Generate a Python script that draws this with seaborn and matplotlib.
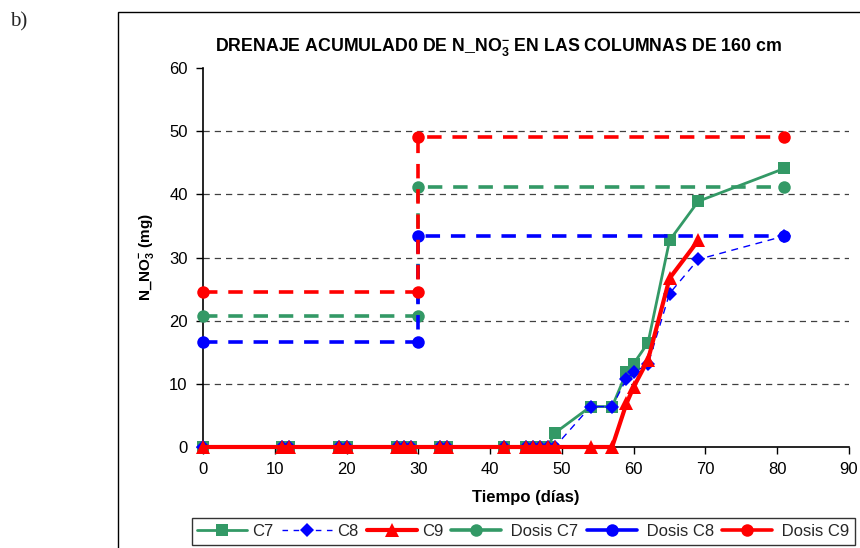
import matplotlib
matplotlib.use("Agg")
import matplotlib.pyplot as plt
import seaborn as sns
import pandas as pd
from matplotlib.patches import Rectangle
from matplotlib.lines import Line2D

# ---- data ----
dias = [0, 11, 12, 19, 20, 27, 28, 29, 33, 34, 42, 45, 46, 47, 48, 49, 54, 57, 59, 60, 62, 65, 69, 81]
c7 = [0, 0, 0, 0, 0, 0, 0, 0, 0, 0, 0, 0, 0, 0, 0, 2.2, 6.4, 6.4, 11.8, 13.2, 16.5, 32.7, 38.9, 44.1]
c8 = [0, 0, 0, 0, 0, 0, 0, 0, 0, 0, 0, 0, 0, 0, 0, 0, 6.4, 6.4, 10.8, 11.8, 13.1, 24.3, 29.7, 33.4]
dias_c9 = [0, 11, 12, 19, 20, 27, 28, 29, 33, 34, 42, 45, 46, 47, 48, 49, 54, 57, 59, 60, 62, 65, 69]
c9 = [0, 0, 0, 0, 0, 0, 0, 0, 0, 0, 0, 0, 0, 0, 0, 0, 0, 0, 6.9, 9.5, 13.8, 26.7, 32.7]
dias_dosis = [0, 30, 30, 81]
dosis_c7 = [20.7, 20.7, 41.2, 41.2]
dosis_c8 = [16.7, 16.7, 33.4, 33.4]
dosis_c9 = [24.5, 24.5, 49.1, 49.1]
xticks = [0, 10, 20, 30, 40, 50, 60, 70, 80, 90]
yticks = [0, 10, 20, 30, 40, 50, 60]
labels = ["C7", "C8", "C9", " Dosis C7", " Dosis C8", " Dosis C9"]

GREEN = "#339966"
BLUE = "#0000FF"
RED = "#FF0000"

sns.set_theme(style="white")
plt.rcParams["font.family"] = ["Liberation Sans", "DejaVu Sans"]
plt.rcParams["mathtext.fontset"] = "custom"
plt.rcParams["mathtext.rm"] = "Liberation Sans"
plt.rcParams["mathtext.bf"] = "Liberation Sans:bold"

fig = plt.figure(figsize=(8.6, 5.48), dpi=100)
ax = fig.add_axes([203/860, 1-447/548, (849-203)/860, (447-68)/548])
ax.set_facecolor("white")

# outer frame and panel label
fig.patches.append(Rectangle((118/860, -0.2), 1.0, 1 - 12/548 + 0.2,
                             transform=fig.transFigure, fill=False,
                             edgecolor="black", linewidth=1.0))
fig.text(10/860, 1-22/548, "b)", family="Liberation Serif", fontsize=15,
         va="center", ha="left")

# gridlines
for y in yticks[1:-1]:
    ax.axhline(y, color="#404040", linestyle=(0, (5, 4)), linewidth=0.9, zorder=0)

def series(x, y, color, marker, ms, lw, ls, label, z):
    df = pd.DataFrame({"x": x, "y": y})
    sns.lineplot(data=df, x="x", y="y", ax=ax, color=color, marker=marker,
                 markersize=ms, linewidth=lw, linestyle=ls, markeredgewidth=0,
                 estimator=None, sort=False, label=label, zorder=z, legend=False,
                 clip_on=False)

series(dias, c7, GREEN, "s", 9, 2.0, "-", labels[0], 3)
series(dias, c8, BLUE, "D", 7.5, 1.0, (0, (5, 4)), labels[1], 4)
series(dias_c9, c9, RED, "^", 10, 3.0, "-", labels[2], 5)
series(dias_dosis, dosis_c7, GREEN, "o", 9, 2.6, (0, (4, 3)), labels[3], 6)
series(dias_dosis, dosis_c8, BLUE, "o", 9, 2.6, (0, (4, 3)), labels[4], 7)
series(dias_dosis, dosis_c9, RED, "o", 9, 2.6, (0, (4, 3)), labels[5], 8)

ax.set_xlim(0, 90)
ax.set_ylim(0, 60)
ax.set_xticks(xticks)
ax.set_yticks(yticks)
ax.tick_params(axis="both", which="both", direction="out", length=5, width=1,
               color="black", labelsize=12, pad=6, bottom=True, left=True)
for s in ["top", "right"]:
    ax.spines[s].set_visible(False)
for s in ["left", "bottom"]:
    ax.spines[s].set_color("black")
    ax.spines[s].set_linewidth(1.2)
for t in ax.get_xticklabels() + ax.get_yticklabels():
    t.set_color("black")

ax.set_xlabel("Tiempo (días)", fontsize=12, fontweight="bold", color="black", labelpad=9)
ax.set_ylabel(r"N_NO$_\mathbf{3}^{\mathbf{-}}$ (mg)", fontsize=11, fontweight="bold",
              color="black", labelpad=9)
ax.set_title(r"DRENAJE ACUMULAD0 DE N_NO$_\mathbf{3}^{\mathbf{-}}$ EN LAS COLUMNAS DE 160 cm",
             fontsize=12.8, fontweight="bold", color="black", pad=12,
             x=(499-203)/(849-203))

handles = [
    Line2D([], [], color=GREEN, marker="s", markersize=9, lw=2.0, markeredgewidth=0),
    Line2D([], [], color=BLUE, marker="D", markersize=7.5, lw=1.0, ls=(0, (4, 4)), markeredgewidth=0),
    Line2D([], [], color=RED, marker="^", markersize=10, lw=3.0, markeredgewidth=0),
    Line2D([], [], color=GREEN, marker="o", markersize=9, lw=2.6, markeredgewidth=0),
    Line2D([], [], color=BLUE, marker="o", markersize=9, lw=2.6, markeredgewidth=0),
    Line2D([], [], color=RED, marker="o", markersize=9, lw=2.6, markeredgewidth=0),
]
leg = fig.legend(handles, labels, loc="center", bbox_to_anchor=(523.5/860, 1-531.5/548),
                 ncol=6, fontsize=12, frameon=True, fancybox=False, edgecolor="black",
                 handlelength=3.0, handletextpad=0.3, columnspacing=0.5, borderpad=0.35)
leg.get_frame().set_linewidth(1.0)

fig.savefig("out.png", dpi=100, facecolor="white")
